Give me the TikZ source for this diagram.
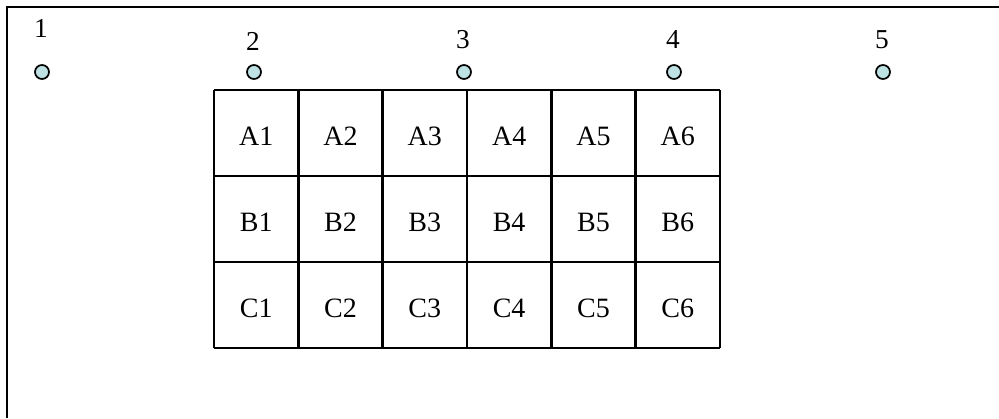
\documentclass[tikz,border=0pt]{standalone}
\usepackage{fontspec}
\setmainfont{Liberation Serif}
\definecolor{dotfill}{RGB}{190,226,228}
\begin{document}
\begin{tikzpicture}[x=0.75pt,y=-0.75pt,
  frame/.style={line width=1.7pt,draw=black},
  gridline/.style={line width=1.9pt,draw=black},
  dot/.style={circle,draw=black,line width=1.3pt,fill=dotfill,minimum size=10.5pt,inner sep=0pt},
  numlabel/.style={font=\fontsize{20.5}{24}\selectfont,inner sep=0pt,anchor=base},
  celltext/.style={font=\fontsize{21}{24}\selectfont,inner sep=0pt,anchor=base}]
\useasboundingbox (0,0) rectangle (999,418);
\coordinate (fb) at (7,418);
\coordinate (fc) at (7,7);
\coordinate (fr) at (999,7);
\draw[frame] (fb) -- (fc) -- (fr);
% dots and labels
\foreach \i/\x/\ly in {1/42/37,2/254/50,3/464/48,4/674/48,5/883/48}{
  \node[dot] (d\i) at (\x,72) {};
  \node[numlabel] (l\i) at (\x-1,\ly) {\i};
}
% grid
\foreach \c in {0,...,6}{
  \coordinate (gt\c) at (214+\c*84.33,90);
  \coordinate (gb\c) at (214+\c*84.33,348);
  \draw[gridline] (gt\c) -- (gb\c);
}
\foreach \r in {0,...,3}{
  \coordinate (gl\r) at (214,90+\r*86);
  \coordinate (gr\r) at (720,90+\r*86);
  \draw[gridline] (gl\r) -- (gr\r);
}
\foreach \r/\L in {0/A,1/B,2/C}{
  \foreach \c in {1,...,6}{
    \node[celltext] (\L\c) at (214+\c*84.33-42.17,90+\r*86+55) {\L\c};
  }
}
\end{tikzpicture}
\end{document}
